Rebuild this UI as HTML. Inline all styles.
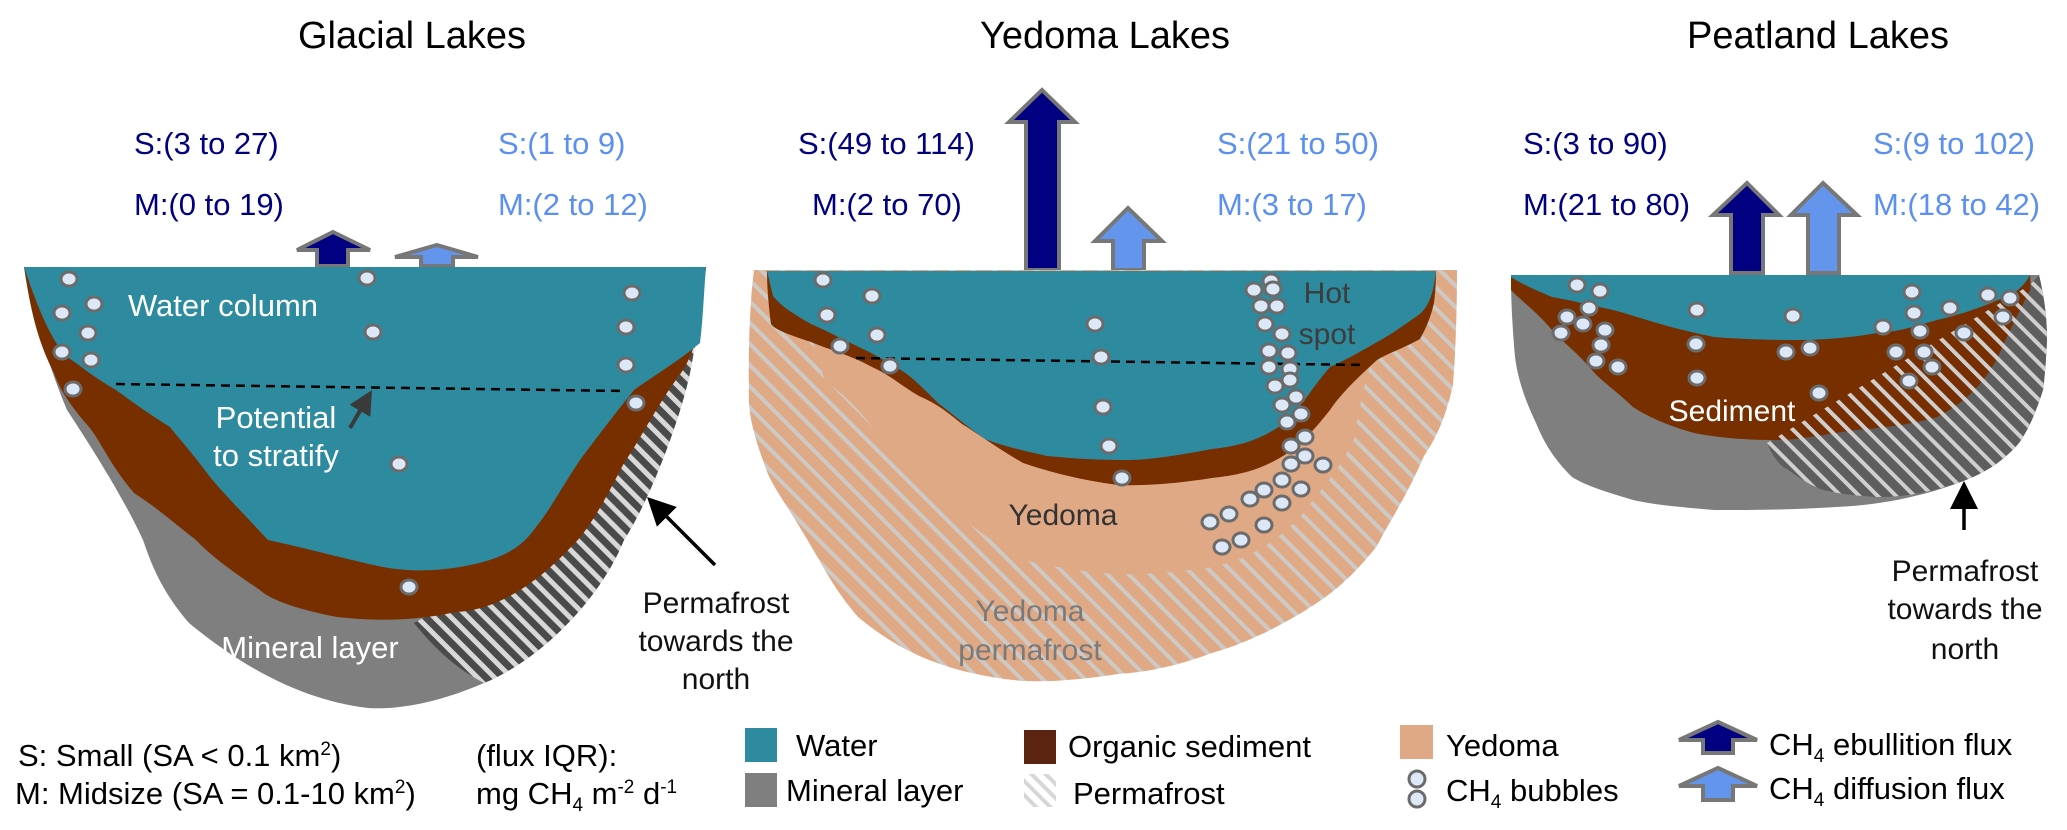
<!DOCTYPE html>
<html><head><meta charset="utf-8"><style>
html,body{margin:0;padding:0;background:#fff}
svg{display:block}
text{font-family:"Liberation Sans",Arial,sans-serif}
</style></head><body>
<svg width="2067" height="830" viewBox="0 0 2067 830" xmlns="http://www.w3.org/2000/svg">
<defs>
<pattern id="pg" width="12" height="12" patternUnits="userSpaceOnUse" patternTransform="rotate(-45)">
<rect width="12" height="12" fill="#4a4a4a"/><rect width="5" height="12" fill="#d8d8d8"/></pattern>
<pattern id="py" width="15" height="15" patternUnits="userSpaceOnUse" patternTransform="rotate(-45)">
<rect width="15" height="15" fill="#e0a986"/><rect width="4" height="15" fill="#cdcac6"/></pattern>
<pattern id="ps" width="13" height="13" patternUnits="userSpaceOnUse" patternTransform="rotate(-45)">
<rect width="4" height="13" fill="#cfcfcf"/></pattern>
<pattern id="pl" width="10" height="10" patternUnits="userSpaceOnUse" patternTransform="rotate(-45)">
<rect width="10" height="10" fill="#fff"/><rect width="4" height="10" fill="#d6d6d6"/></pattern>
<clipPath id="peatHatch"><path d="M2039,275 C2045,300 2047,320 2047,340 C2046,360 2045,375 2043,390 C2035,415 2028,430 2019,443 C2000,465 1980,475 1958,483 C1920,495 1900,497 1877,497 C1840,495 1820,490 1816,487 C1800,480 1790,470 1783,467 C1775,460 1770,450 1767,443 L2030,285 Z"/></clipPath>
<marker id="ah" markerWidth="8" markerHeight="8" refX="6" refY="4" orient="auto" markerUnits="strokeWidth"><path d="M0,0 L8,4 L0,8 Z" fill="#000"/></marker>
<marker id="ah2" markerWidth="6" markerHeight="6" refX="4" refY="3" orient="auto" markerUnits="strokeWidth"><path d="M0,0 L6,3 L0,6 Z" fill="#3a3a3a"/></marker>
</defs>

<!-- Titles -->
<g font-size="38" fill="#000" text-anchor="middle">
<text x="412" y="48">Glacial Lakes</text>
<text x="1105" y="48">Yedoma Lakes</text>
<text x="1818" y="48">Peatland Lakes</text>
</g>

<!-- Flux text -->
<g font-size="31">
<text x="134" y="154" fill="#00007f">S:(3 to 27)</text>
<text x="134" y="215" fill="#00007f">M:(0 to 19)</text>
<text x="498" y="154" fill="#5b8ff0">S:(1 to 9)</text>
<text x="498" y="215" fill="#5b8ff0">M:(2 to 12)</text>
<text x="798" y="154" fill="#00007f">S:(49 to 114)</text>
<text x="812" y="215" fill="#00007f">M:(2 to 70)</text>
<text x="1217" y="154" fill="#5b8ff0">S:(21 to 50)</text>
<text x="1217" y="215" fill="#5b8ff0">M:(3 to 17)</text>
<text x="1523" y="154" fill="#00007f">S:(3 to 90)</text>
<text x="1523" y="215" fill="#00007f">M:(21 to 80)</text>
<text x="1873" y="154" fill="#5b8ff0">S:(9 to 102)</text>
<text x="1873" y="215" fill="#5b8ff0">M:(18 to 42)</text>
</g>

<!-- Arrows -->
<g stroke="#777" stroke-width="4" stroke-linejoin="miter">
<polygon points="333,232 370,250 348,250 348,266 317,266 317,250 297,250" fill="#000080"/>
<polygon points="437,245 478,257 453,257 453,266 421,266 421,257 395,257" fill="#6495ed"/>
<polygon points="1042,90 1075,122 1059,122 1059,270 1026,270 1026,122 1009,122" fill="#000080"/>
<polygon points="1128,208 1162,241 1144,241 1144,270 1113,270 1113,241 1095,241" fill="#6495ed"/>
<polygon points="1747,183 1779,215 1763,215 1763,273 1731,273 1731,215 1713,215" fill="#000080"/>
<polygon points="1823,183 1857,215 1839,215 1839,273 1808,273 1808,215 1791,215" fill="#6495ed"/>
</g>

<!-- Glacial lake -->
<path d="M24,267 L706,267 L701,313 L690,373 C680,420 650,500 624,540 C600,600 540,660 484,683 C440,702 400,710 368,708 C300,700 240,665 189,623 C160,590 150,560 143,540 C120,490 80,430 67,410 C50,370 35,320 24,267 Z" fill="#7f7f7f"/>
<path d="M701,313 L690,373 C680,420 650,500 624,540 C600,600 540,660 484,683 C460,670 440,655 414,623 L560,540 L681,373 Z" fill="url(#pg)"/>
<path d="M24,267 L706,267 L701,313 C698,340 690,360 681,373 C660,400 640,440 624,463 C610,490 590,530 571,547 C540,580 500,610 456,612 C420,620 380,622 337,617 C300,610 270,600 260,590 C230,570 210,555 196,540 C170,520 160,510 134,493 C110,465 100,440 89,427 C70,405 60,390 54,373 C40,345 32,320 24,267 Z" fill="#772f00"/>
<path d="M24,267 L706,267 C704,290 703,320 700,343 C680,360 655,375 634,390 C610,420 595,440 580,460 C560,490 550,510 536,527 C520,550 500,560 460,567 C430,572 400,572 365,563 C330,555 305,548 268,540 C240,510 225,495 210,477 C190,450 180,440 170,427 C140,408 130,400 116,390 C90,375 80,365 67,357 C50,340 35,300 24,267 Z" fill="#2e8a9e"/>
<line x1="116" y1="384" x2="625" y2="391" stroke="#000" stroke-width="2.5" stroke-dasharray="9,6"/>
<line x1="350" y1="428" x2="368" y2="397" stroke="#3a3a3a" stroke-width="4" marker-end="url(#ah2)"/>
<g font-size="31" fill="#fff" text-anchor="middle">
<text x="223" y="316">Water column</text>
<text x="276" y="428">Potential</text>
<text x="276" y="466">to stratify</text>
<text x="310" y="658">Mineral layer</text>
</g>
<g font-size="30" fill="#111" text-anchor="middle">
<text x="716" y="613">Permafrost</text>
<text x="716" y="651">towards the</text>
<text x="716" y="689">north</text>
</g>
<line x1="715" y1="565" x2="652" y2="502" stroke="#000" stroke-width="3.5" marker-end="url(#ah)"/>

<!-- Yedoma lake -->
<path d="M754,270 L1457,270 C1457,320 1455,360 1453,385 C1445,420 1435,440 1424,456 C1405,500 1390,520 1377,546 C1350,580 1330,595 1306,610 C1270,632 1240,645 1212,653 C1180,665 1150,672 1118,674 C1080,680 1050,682 1023,681 C990,678 960,672 929,660 C900,648 880,635 858,617 C835,590 825,570 811,546 C790,510 775,490 768,474 C755,440 750,420 749,403 C748,350 750,300 754,270 Z" fill="url(#py)"/>
<path d="M811,335 L1377,345 C1370,360 1360,400 1354,439 C1340,470 1320,490 1306,510 C1280,540 1250,560 1212,567 C1180,572 1150,575 1118,574 C1080,572 1050,566 1023,560 C990,540 970,525 952,510 C920,480 900,460 882,439 C860,410 845,395 825,381 Z" fill="#e0a986"/>
<path d="M767,271 L1436,271 C1436,285 1435,295 1434,303 C1430,320 1425,330 1420,339 C1400,350 1390,352 1377,360 C1355,380 1340,395 1330,410 C1310,435 1300,445 1283,456 C1260,470 1240,475 1212,478 C1180,483 1150,486 1118,485 C1080,480 1050,472 1023,463 C1000,450 980,435 962,424 C945,410 935,403 919,396 C900,385 890,375 872,367 C850,355 830,350 811,342 C790,335 775,330 771,324 C768,300 767,285 767,271 Z" fill="#772f00"/>
<path d="M767,271 L1436,271 C1434,290 1430,305 1420,314 C1400,328 1390,335 1377,342 C1355,355 1345,360 1330,367 C1310,390 1300,410 1283,424 C1260,440 1240,446 1212,449 C1180,455 1150,460 1127,460 C1090,460 1070,458 1047,456 C1020,450 1000,445 985,439 C965,425 950,412 938,403 C920,385 910,375 896,367 C880,358 870,352 863,349 C840,338 825,330 811,324 C790,312 780,305 773,296 Z" fill="#2e8a9e"/>
<line x1="856" y1="358" x2="1365" y2="365" stroke="#000" stroke-width="2.5" stroke-dasharray="9,6"/>
<g font-size="30" text-anchor="middle">
<text x="1327" y="303" fill="#3c3c3c">Hot</text>
<text x="1327" y="344" fill="#3c3c3c">spot</text>
<text x="1063" y="525" fill="#333">Yedoma</text>
<text x="1030" y="621" fill="#7a7a7a">Yedoma</text>
<text x="1030" y="660" fill="#7a7a7a">permafrost</text>
</g>

<!-- Peatland lake -->
<path d="M1511,275 L2039,275 C2045,300 2047,320 2047,340 C2046,360 2045,375 2043,390 C2035,415 2028,430 2019,443 C2000,465 1980,475 1958,483 C1920,497 1880,505 1836,507 C1790,510 1750,510 1714,510 C1680,507 1655,505 1633,500 C1600,490 1585,485 1572,477 C1555,460 1545,445 1536,423 C1525,400 1518,380 1515,357 C1512,320 1511,300 1511,275 Z" fill="#7f7f7f"/>
<rect x="1700" y="270" width="360" height="250" fill="#5e5e5e" clip-path="url(#peatHatch)"/>
<path d="M1511,275 L2030,275 C2031,285 2030,290 2030,290 C2015,320 2005,340 1998,357 C1980,390 1960,405 1937,417 C1910,425 1880,428 1856,430 C1820,435 1800,440 1775,440 C1740,440 1715,437 1694,433 C1665,425 1645,415 1633,407 C1615,390 1600,380 1592,370 C1575,350 1560,340 1552,330 C1535,310 1520,300 1511,290 Z" fill="#772f00"/>
<rect x="1700" y="270" width="360" height="250" fill="url(#ps)" clip-path="url(#peatHatch)"/>
<path d="M1511,275 L2030,275 C2025,285 2015,295 1998,300 C1975,310 1955,316 1937,320 C1910,328 1895,332 1877,333 C1850,338 1820,340 1795,340 C1765,340 1740,339 1714,337 C1690,332 1670,327 1657,323 C1640,318 1625,313 1613,310 C1590,305 1570,300 1552,297 C1535,290 1520,283 1511,277 Z" fill="#2e8a9e"/>
<text x="1732" y="421" font-size="30" fill="#fff" text-anchor="middle">Sediment</text>
<g font-size="30" fill="#111" text-anchor="middle">
<text x="1965" y="581">Permafrost</text>
<text x="1965" y="619">towards the</text>
<text x="1965" y="659">north</text>
</g>
<line x1="1964" y1="530" x2="1964" y2="488" stroke="#000" stroke-width="3.5" marker-end="url(#ah)"/>

<!-- Bubbles -->
<g fill="#dce8f8" stroke="#6b6b6b" stroke-width="3">
<ellipse cx="69" cy="279" rx="8" ry="7"/><ellipse cx="367" cy="278" rx="8" ry="7"/><ellipse cx="94" cy="304" rx="8" ry="7"/><ellipse cx="62" cy="313" rx="8" ry="7"/><ellipse cx="88" cy="333" rx="8" ry="7"/><ellipse cx="373" cy="332" rx="8" ry="7"/><ellipse cx="62" cy="352" rx="8" ry="7"/><ellipse cx="91" cy="360" rx="8" ry="7"/><ellipse cx="73" cy="389" rx="8" ry="7"/><ellipse cx="632" cy="293" rx="8" ry="7"/><ellipse cx="626" cy="327" rx="8" ry="7"/><ellipse cx="626" cy="365" rx="8" ry="7"/><ellipse cx="636" cy="403" rx="8" ry="7"/><ellipse cx="399" cy="464" rx="8" ry="7"/><ellipse cx="409" cy="587" rx="8" ry="7"/>
<ellipse cx="823" cy="280" rx="8" ry="7"/><ellipse cx="872" cy="296" rx="8" ry="7"/><ellipse cx="827" cy="315" rx="8" ry="7"/><ellipse cx="877" cy="335" rx="8" ry="7"/><ellipse cx="840" cy="346" rx="8" ry="7"/><ellipse cx="890" cy="366" rx="8" ry="7"/><ellipse cx="1095" cy="324" rx="8" ry="7"/><ellipse cx="1101" cy="357" rx="8" ry="7"/><ellipse cx="1103" cy="407" rx="8" ry="7"/><ellipse cx="1109" cy="446" rx="8" ry="7"/><ellipse cx="1122" cy="478" rx="8" ry="7"/>
<ellipse cx="1271" cy="281" rx="8" ry="7"/><ellipse cx="1254" cy="290" rx="8" ry="7"/><ellipse cx="1273" cy="289" rx="8" ry="7"/><ellipse cx="1261" cy="306" rx="8" ry="7"/><ellipse cx="1277" cy="306" rx="8" ry="7"/><ellipse cx="1265" cy="324" rx="8" ry="7"/><ellipse cx="1282" cy="334" rx="8" ry="7"/><ellipse cx="1269" cy="351" rx="8" ry="7"/><ellipse cx="1288" cy="353" rx="8" ry="7"/><ellipse cx="1269" cy="367" rx="8" ry="7"/><ellipse cx="1290" cy="369" rx="8" ry="7"/><ellipse cx="1290" cy="380" rx="8" ry="7"/><ellipse cx="1275" cy="386" rx="8" ry="7"/><ellipse cx="1296" cy="397" rx="8" ry="7"/><ellipse cx="1282" cy="405" rx="8" ry="7"/><ellipse cx="1301" cy="414" rx="8" ry="7"/><ellipse cx="1287" cy="422" rx="8" ry="7"/><ellipse cx="1305" cy="437" rx="8" ry="7"/><ellipse cx="1291" cy="446" rx="8" ry="7"/><ellipse cx="1305" cy="456" rx="8" ry="7"/><ellipse cx="1323" cy="465" rx="8" ry="7"/><ellipse cx="1291" cy="464" rx="8" ry="7"/><ellipse cx="1282" cy="480" rx="8" ry="7"/><ellipse cx="1301" cy="489" rx="8" ry="7"/><ellipse cx="1264" cy="490" rx="8" ry="7"/><ellipse cx="1250" cy="499" rx="8" ry="7"/><ellipse cx="1282" cy="503" rx="8" ry="7"/><ellipse cx="1229" cy="514" rx="8" ry="7"/><ellipse cx="1210" cy="522" rx="8" ry="7"/><ellipse cx="1264" cy="525" rx="8" ry="7"/><ellipse cx="1241" cy="540" rx="8" ry="7"/><ellipse cx="1222" cy="547" rx="8" ry="7"/>
<ellipse cx="1577" cy="285" rx="8" ry="7"/><ellipse cx="1600" cy="291" rx="8" ry="7"/><ellipse cx="1589" cy="308" rx="8" ry="7"/><ellipse cx="1567" cy="317" rx="8" ry="7"/><ellipse cx="1583" cy="324" rx="8" ry="7"/><ellipse cx="1561" cy="333" rx="8" ry="7"/><ellipse cx="1605" cy="330" rx="8" ry="7"/><ellipse cx="1601" cy="345" rx="8" ry="7"/><ellipse cx="1596" cy="361" rx="8" ry="7"/><ellipse cx="1618" cy="367" rx="8" ry="7"/><ellipse cx="1697" cy="310" rx="8" ry="7"/><ellipse cx="1696" cy="344" rx="8" ry="7"/><ellipse cx="1697" cy="378" rx="8" ry="7"/><ellipse cx="1793" cy="316" rx="8" ry="7"/><ellipse cx="1786" cy="352" rx="8" ry="7"/><ellipse cx="1810" cy="348" rx="8" ry="7"/><ellipse cx="1819" cy="393" rx="8" ry="7"/><ellipse cx="1912" cy="292" rx="8" ry="7"/><ellipse cx="1914" cy="313" rx="8" ry="7"/><ellipse cx="1883" cy="327" rx="8" ry="7"/><ellipse cx="1920" cy="331" rx="8" ry="7"/><ellipse cx="1896" cy="352" rx="8" ry="7"/><ellipse cx="1924" cy="352" rx="8" ry="7"/><ellipse cx="1932" cy="367" rx="8" ry="7"/><ellipse cx="1909" cy="381" rx="8" ry="7"/><ellipse cx="1950" cy="308" rx="8" ry="7"/><ellipse cx="1964" cy="333" rx="8" ry="7"/><ellipse cx="1988" cy="295" rx="8" ry="7"/><ellipse cx="2010" cy="298" rx="8" ry="7"/><ellipse cx="2003" cy="317" rx="8" ry="7"/>
<ellipse cx="1417" cy="779" rx="8" ry="8"/><ellipse cx="1417" cy="799" rx="8" ry="8"/>
</g>

<!-- Legend -->
<g font-size="31" fill="#000">
<text x="18" y="766">S: Small (SA &lt; 0.1 km<tspan font-size="19" dy="-11">2</tspan><tspan dy="11">)</tspan></text>
<text x="15" y="804">M: Midsize (SA = 0.1-10 km<tspan font-size="19" dy="-11">2</tspan><tspan dy="11">)</tspan></text>
<text x="476" y="766">(flux IQR):</text>
<text x="476" y="804">mg CH<tspan font-size="19" dy="7">4</tspan><tspan dy="-7"> m</tspan><tspan font-size="19" dy="-11">-2</tspan><tspan dy="11"> d</tspan><tspan font-size="19" dy="-11">-1</tspan></text>
<text x="796" y="756">Water</text>
<text x="786" y="801">Mineral layer</text>
<text x="1068" y="757">Organic sediment</text>
<text x="1073" y="804">Permafrost</text>
<text x="1446" y="756">Yedoma</text>
<text x="1446" y="801">CH<tspan font-size="19" dy="7">4</tspan><tspan dy="-7"> bubbles</tspan></text>
<text x="1769" y="755">CH<tspan font-size="19" dy="7">4</tspan><tspan dy="-7"> ebullition flux</tspan></text>
<text x="1769" y="799">CH<tspan font-size="19" dy="7">4</tspan><tspan dy="-7"> diffusion flux</tspan></text>
</g>
<rect x="745" y="728" width="32" height="34" fill="#2e8a9e"/>
<rect x="745" y="773" width="32" height="34" fill="#7f7f7f"/>
<rect x="1024" y="730" width="32" height="34" fill="#5a2410"/>
<rect x="1024" y="774" width="32" height="33" fill="url(#pl)"/>
<rect x="1400" y="725" width="33" height="34" fill="#e0a986"/>
<g stroke="#777" stroke-width="4">
<polygon points="1718,722 1757,740 1733,740 1733,753 1703,753 1703,740 1679,740" fill="#000080"/>
<polygon points="1718,768 1757,786 1733,786 1733,800 1703,800 1703,786 1679,786" fill="#6495ed"/>
</g>
</svg>
</body></html>
